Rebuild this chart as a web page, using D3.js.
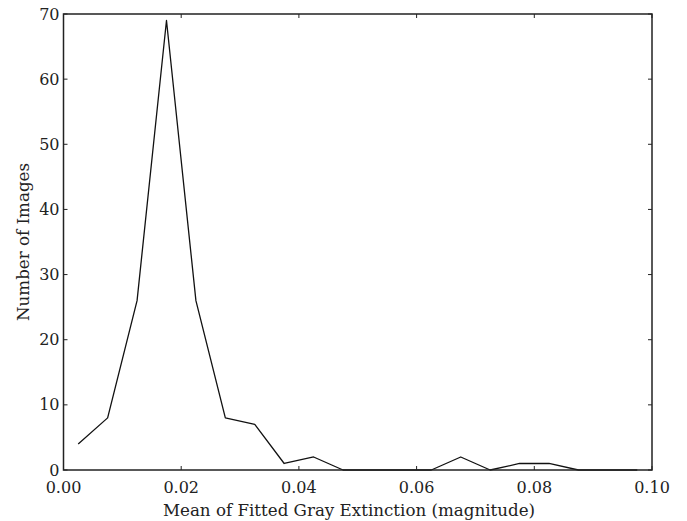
<!DOCTYPE html>
<html><head><meta charset="utf-8">
<script src="https://cdn.jsdelivr.net/npm/d3@7"></script>
<style>body{margin:0;background:#fff}svg{display:block}text{font-family:"DejaVu Serif",serif;fill:#222}</style>
</head><body>
<script>
const binCenters = [0.0025,0.0075,0.0125,0.0175,0.0225,0.0275,0.0325,0.0375,0.0425,0.0475,0.0525,0.0575,0.0625,0.0675,0.0725,0.0775,0.0825,0.0875,0.0925,0.0975];
const counts = [4,8,26,69,26,8,7,1,2,0,0,0,0,2,0,1,1,0,0,0];
const xTicks = [0,0.02,0.04,0.06,0.08,0.10];
const yTicks = [0,10,20,30,40,50,60,70];
const xLabel = "Mean of Fitted Gray Extinction (magnitude)";
const yLabel = "Number of Images";

const W=687,H=521, L=63.5, R=652, T=14, B=470;
const svg=d3.select("body").append("svg").attr("width",W).attr("height",H);
const x=d3.scaleLinear().domain([0,0.1]).range([L,R]);
const y=d3.scaleLinear().domain([0,70]).range([B,T]);

const line=d3.line().x((d,i)=>x(binCenters[i])).y(d=>y(d));
svg.append("path").datum(counts).attr("d",line).attr("fill","none").attr("stroke","#111").attr("stroke-width",1.3).attr("stroke-linejoin","round");

const tl=4;
const g=svg.append("g").attr("stroke","#222").attr("stroke-width",1);
xTicks.forEach(t=>{
  g.append("line").attr("x1",x(t)).attr("x2",x(t)).attr("y1",B).attr("y2",B-tl);
  g.append("line").attr("x1",x(t)).attr("x2",x(t)).attr("y1",T).attr("y2",T+tl);
  svg.append("text").attr("x",x(t)).attr("y",493).attr("text-anchor","middle").attr("font-size",16).text(d3.format(".2f")(t));
});
yTicks.forEach(t=>{
  g.append("line").attr("x1",L).attr("x2",L+tl).attr("y1",y(t)).attr("y2",y(t));
  g.append("line").attr("x1",R).attr("x2",R-tl).attr("y1",y(t)).attr("y2",y(t));
  svg.append("text").attr("x",L-4).attr("y",y(t)+5.5).attr("text-anchor","end").attr("font-size",16).text(t);
});
svg.append("rect").attr("x",L).attr("y",T).attr("width",R-L).attr("height",B-T).attr("fill","none").attr("stroke","#222").attr("stroke-width",1.5);
svg.append("text").attr("x",349).attr("y",516).attr("text-anchor","middle").attr("font-size",16.7).text(xLabel);
svg.append("text").attr("transform",`translate(29,${(T+B)/2}) rotate(-90)`).attr("text-anchor","middle").attr("font-size",16.7).text(yLabel);
</script>
</body></html>
